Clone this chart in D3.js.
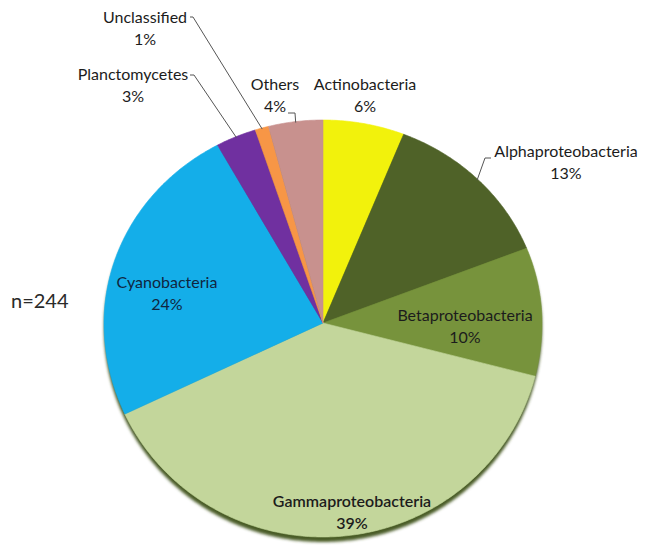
<!DOCTYPE html>
<html>
<head>
<meta charset="utf-8">
<script src="https://cdn.jsdelivr.net/npm/d3@7"></script>
<style>
  html, body { margin: 0; padding: 0; background: #ffffff; }
  svg { display: block; }
  text { font-family: Lato, "Noto Sans", sans-serif; }
</style>
</head>
<body>
<svg id="chart" width="645" height="551"></svg>
<script>
// Bacterial groups, clockwise from 12 o'clock, and their share of clones (%)
const groups = ["Actinobacteria", "Alphaproteobacteria", "Betaproteobacteria",
  "Gammaproteobacteria", "Cyanobacteria", "Planctomycetes", "Unclassified", "Others"];
const shares = [6, 13, 10, 39, 24, 3, 1, 4];
const colors = ["#f2f20c", "#4f6228", "#77933c", "#c3d69b", "#14aee9", "#7030a0", "#f79646", "#c8918e"];
const sampleSize = "n=244";

const svg = d3.select("#chart");

// Slightly tilted pie: the upper half is a bit flatter than the lower half
const cx = 323, cy = 323, rx = 219, ryTop = 203, ryBot = 214;
function project(theta, r) {
  const c = Math.cos(theta), s = Math.sin(theta);
  return [cx + rx * r * s, cy - r * c * (c >= 0 ? ryTop : ryBot)];
}

const pie = d3.pie().sort(null).value(d => d.value).startAngle(0).endAngle(2 * Math.PI);
const arcs = pie(groups.map((g, i) => ({ name: g, value: shares[i], color: colors[i] })));

const line = d3.line();
function slicePath(a) {
  const pts = [[cx, cy]];
  const n = Math.max(4, Math.ceil((a.endAngle - a.startAngle) / 0.01));
  for (let k = 0; k <= n; k++) {
    pts.push(project(a.startAngle + (a.endAngle - a.startAngle) * k / n, 1));
  }
  return line(pts) + "Z";
}
function rimPath() {
  const pts = [];
  for (let k = 0; k <= 720; k++) pts.push(project(2 * Math.PI * k / 720, 1));
  return line(pts) + "Z";
}

// soft drop shadow under the pie
const defs = svg.append("defs");
defs.append("filter").attr("id", "soft")
  .attr("x", "-10%").attr("y", "-10%").attr("width", "120%").attr("height", "120%")
  .append("feGaussianBlur").attr("stdDeviation", 1.6);

svg.append("path")
  .attr("d", rimPath())
  .attr("transform", "translate(0,5)")
  .attr("fill", "#4a5c26")
  .attr("filter", "url(#soft)");

svg.append("g").selectAll("path")
  .data(arcs)
  .join("path")
  .attr("d", slicePath)
  .attr("fill", d => d.data.color)
  .attr("stroke", d => d.data.color)
  .attr("stroke-width", 0.6);

// Label layout: anchor point of the name line, optional leader line
const labelLayout = {
  "Actinobacteria":      { x: 365, y: 90 },
  "Alphaproteobacteria": { x: 566, y: 157, leader: { from: [491, 158], elbow: [485, 158] } },
  "Betaproteobacteria":  { x: 465, y: 321 },
  "Gammaproteobacteria": { x: 352, y: 507, weight: 600 },
  "Cyanobacteria":       { x: 167, y: 288, fill: "#10263f" },
  "Planctomycetes":      { x: 133, y: 80,  leader: { from: [190, 75], elbow: [194, 75] } },
  "Unclassified":        { x: 145, y: 23,  leader: { from: [190, 17], elbow: [193, 17] } },
  "Others":              { x: 275, y: 90,  leader: { from: [288, 113], elbow: [295, 113] } }
};

const fmt = v => d3.format(".0f")(v) + "%";

const lg = svg.append("g").attr("fill", "none").attr("stroke", "#555").attr("stroke-width", 1);
arcs.forEach(a => {
  const L = labelLayout[a.data.name];
  if (!L.leader) return;
  const mid = (a.startAngle + a.endAngle) / 2;
  const tip = project(mid, 0.995);
  lg.append("path").attr("d", d3.line()([L.leader.from, L.leader.elbow, tip]));
});

const tg = svg.append("g");
arcs.forEach(a => {
  const L = labelLayout[a.data.name];
  const t = tg.append("text")
    .attr("text-anchor", "middle")
    .attr("font-size", 16)
    .attr("font-weight", L.weight || 400)
    .attr("fill", L.fill || "#1c1c1c");
  t.append("tspan").attr("x", L.x).attr("y", L.y).text(a.data.name);
  t.append("tspan").attr("x", L.x).attr("y", L.y + 22).text(fmt(a.data.value));
});

svg.append("text")
  .attr("x", 11).attr("y", 308)
  .attr("font-size", 20)
  .attr("fill", "#2a2a2a")
  .text(sampleSize);
</script>
</body>
</html>
